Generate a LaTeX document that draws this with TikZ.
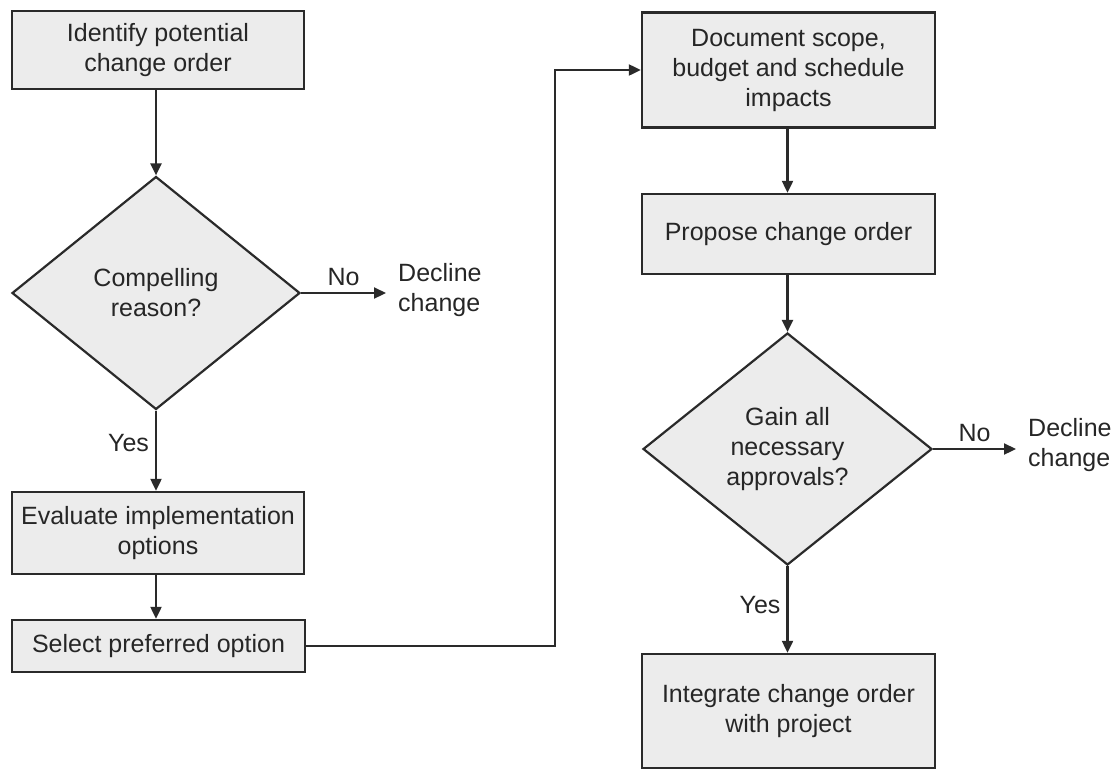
\documentclass[tikz,border=0pt]{standalone}
\usepackage{fontspec}
\setmainfont{Liberation Sans}
\usetikzlibrary{shapes.geometric,arrows.meta}
\definecolor{boxfill}{HTML}{ECECEC}
\definecolor{edge}{HTML}{2A2A2A}
\definecolor{ink}{HTML}{262626}
\begin{document}
\begin{tikzpicture}[x=1pt,y=-1pt,
  every node/.style={font=\fontsize{25}{30}\selectfont, text=ink},
  box/.style={draw=edge, line width=2.4pt, fill=boxfill, align=center, inner sep=0pt},
  dia/.style={draw=edge, line width=2.2pt, fill=boxfill, diamond, align=center, inner sep=0pt},
  conn/.style={draw=edge, line width=2.2pt},
  arr/.style={conn, -{Triangle[length=12pt,width=11pt]}},
  lbl/.style={inner sep=2pt},
  outcome/.style={align=left, inner xsep=12pt, inner ysep=0pt}]
\useasboundingbox (0,0) rectangle (1118,769);

% left column
\node[box, minimum width=292, minimum height=78] (ident) at (158,50) {Identify potential\\change order};
\node[dia, minimum width=288, minimum height=233] (comp) at (156,293) {Compelling\\reason?};
\node[outcome, anchor=west] (dec1) at (386,290) {Decline\\change};
\node[box, minimum width=292, minimum height=82] (eval) at (158,533) {Evaluate implementation\\options};
\node[box, minimum width=293, minimum height=52] (sel) at (158.5,646) {Select preferred option};

% right column
\node[box, minimum width=293, minimum height=115] (doc) at (788.5,70) {Document scope,\\budget and schedule\\impacts};
\node[box, minimum width=293, minimum height=80] (prop) at (788.5,234) {Propose change order};
\node[dia, minimum width=289, minimum height=232] (gain) at (787.5,449) {Gain all\\necessary\\approvals?};
\node[outcome, anchor=west] (dec2) at (1016,445) {Decline\\change};
\node[box, minimum width=293, minimum height=114] (integ) at (788.5,711) {Integrate change order\\with project};

\coordinate (bend) at (555,646);

% connectors
\draw[arr] (ident.south -| comp.north) -- (comp.north);
\draw[arr] (comp.east) -- node[lbl, above=4pt] {No} (dec1.west |- comp.east);
\draw[arr] (comp.south) -- node[lbl, left=4pt, pos=0.4] {Yes} (comp.south |- eval.north);
\draw[arr] (eval.south -| comp.south) -- (comp.south |- sel.north);
\draw[arr] (sel.east) -- (bend) |- (doc.west);
\draw[arr] (doc.south -| gain.north) -- (gain.south |- prop.north);
\draw[arr] (prop.south -| gain.north) -- (gain.north);
\draw[arr] (gain.east) -- node[lbl, above=4pt] {No} (dec2.west |- gain.east);
\draw[arr] (gain.south) -- node[lbl, left=4pt, pos=0.45] {Yes} (gain.south |- integ.north);
\end{tikzpicture}
\end{document}
